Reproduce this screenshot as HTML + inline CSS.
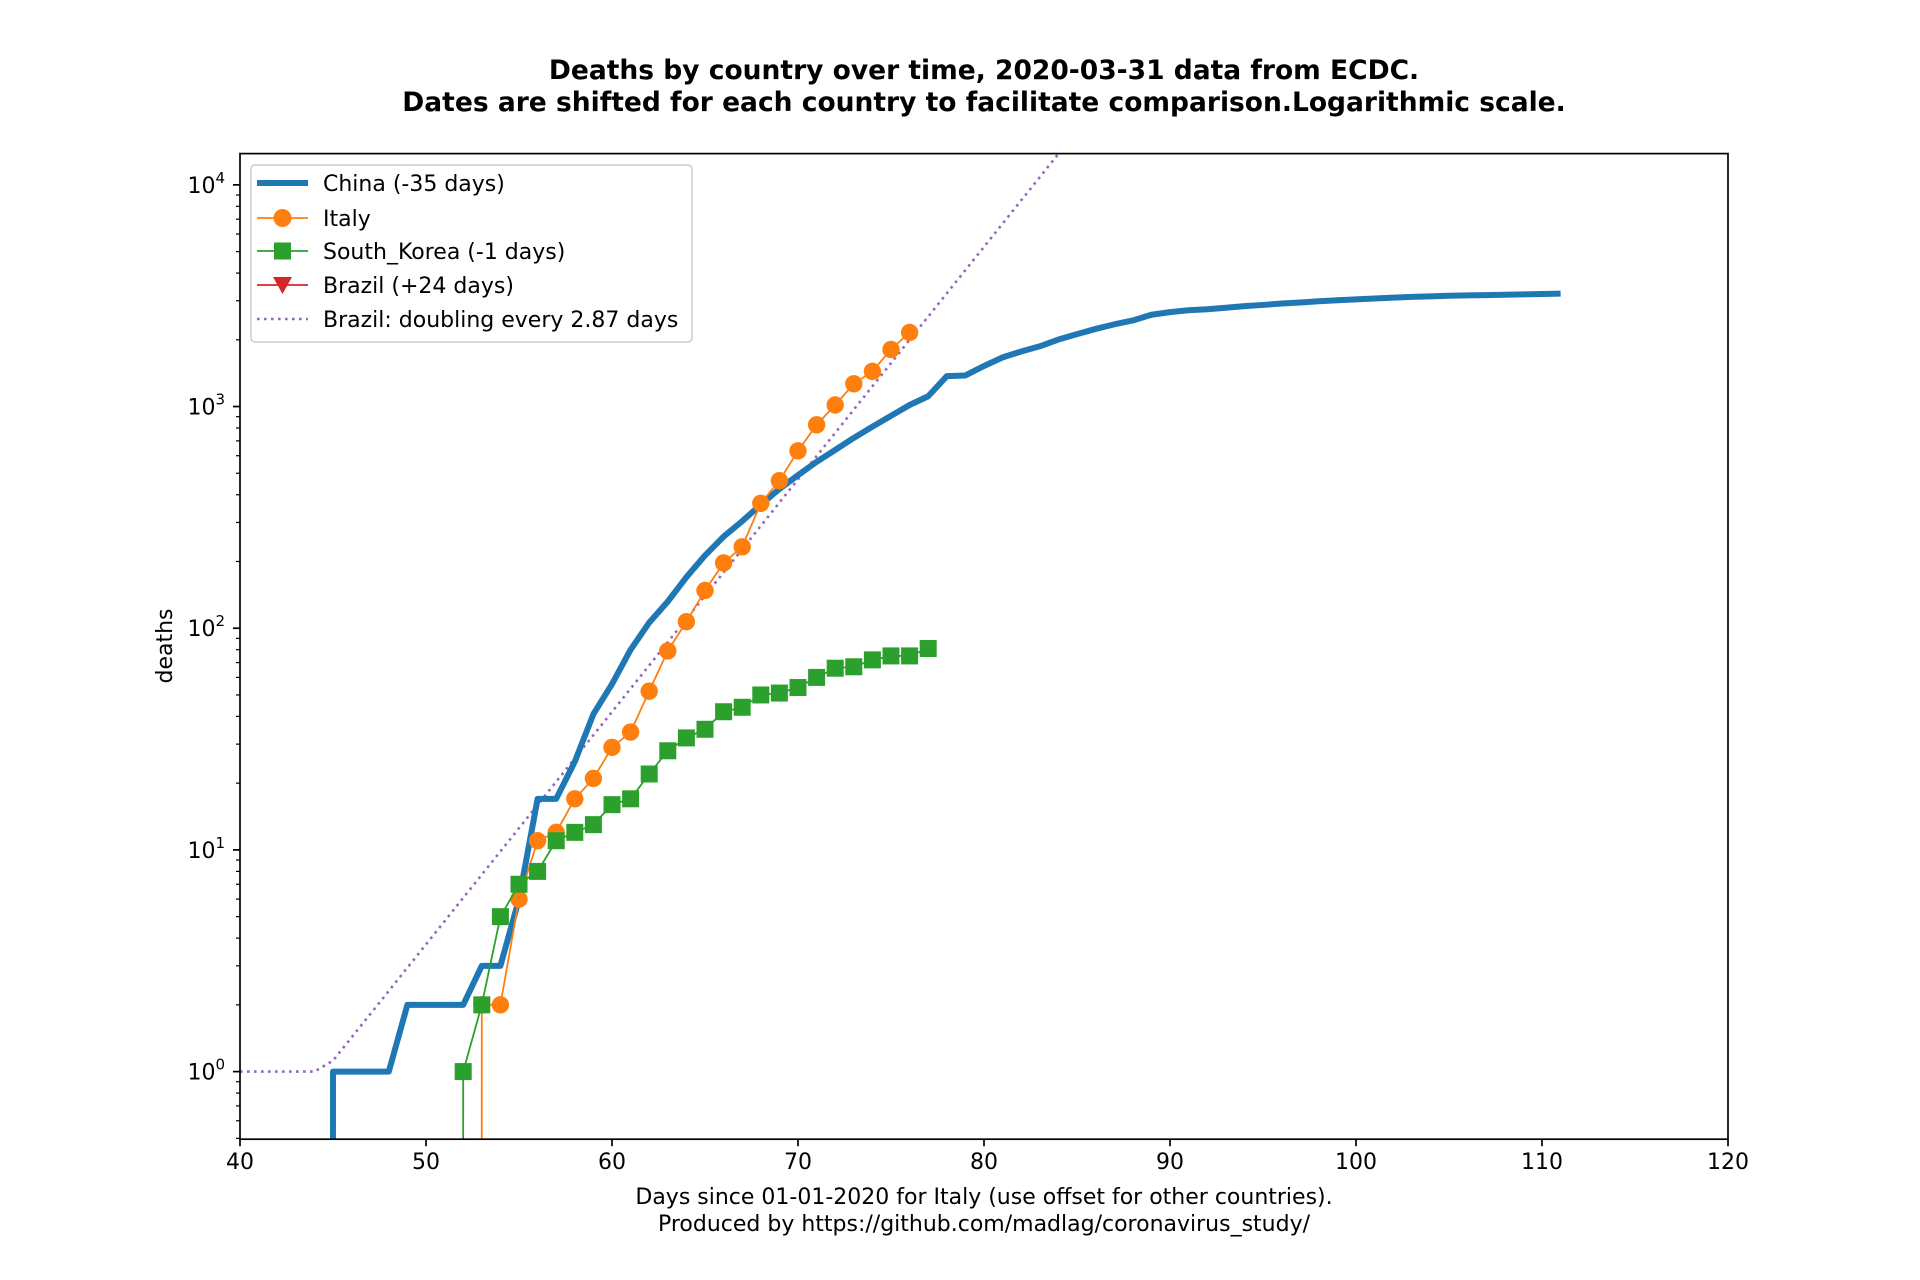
<!DOCTYPE html>
<html><head><meta charset="utf-8"><style>
html,body{margin:0;padding:0;background:#fff;width:1920px;height:1280px;overflow:hidden}
svg{display:block}
svg text{font-family:"DejaVu Sans","Liberation Sans",sans-serif;fill:#000}
</style></head><body>
<svg id="chart" width="1920" height="1280" viewBox="0 0 1920 1280" xmlns="http://www.w3.org/2000/svg">
<rect width="1920" height="1280" fill="#fff"/>
<defs><clipPath id="clip"><rect x="240" y="153.6" width="1488" height="985.6"/></clipPath></defs>
<text x="984" y="79" font-size="26.5" font-weight="bold" text-anchor="middle">Deaths by country over time, 2020-03-31 data from ECDC.</text>
<text x="984" y="111" font-size="26.5" font-weight="bold" text-anchor="middle">Dates are shifted for each country to facilitate comparison.Logarithmic scale.</text>
<g id="plot" clip-path="url(#clip)"></g>
<g id="axes"></g>
<rect x="240" y="153.6" width="1488" height="985.6" fill="none" stroke="#000" stroke-width="1.7"/>
<text x="984" y="1204" font-size="22" text-anchor="middle">Days since 01-01-2020 for Italy (use offset for other countries).</text>
<text x="984" y="1231" font-size="22" text-anchor="middle">Produced by https://github.com/madlag/coronavirus_study/</text>
<text x="172" y="646" font-size="22" text-anchor="middle" transform="rotate(-90 172 646)">deaths</text>
<g id="legend"></g>
</svg>
<script>
const chinaDays=[44,45,46,47,48,49,50,51,52,53,54,55,56,57,58,59,60,61,62,63,64,65,66,67,68,69,70,71,72,73,74,75,76,77,78,79,80,81,82,83,84,85,86,87,88,89,90,91,92,93,94,95,96,97,98,99,100,101,102,103,104,105,106,107,108,109,110,111];
const chinaDeaths=[0,1,1,1,1,2,2,2,2,3,3,6,17,17,25,41,56,80,106,132,170,213,259,304,361,425,490,563,637,722,811,908,1016,1113,1371,1381,1524,1666,1772,1870,2006,2121,2239,2348,2445,2595,2666,2718,2747,2791,2838,2873,2915,2946,2984,3015,3045,3073,3100,3123,3140,3162,3173,3180,3194,3204,3218,3231];
const italyDays=[52,53,54,55,56,57,58,59,60,61,62,63,64,65,66,67,68,69,70,71,72,73,74,75,76];
const italyDeaths=[0,2,2,6,11,12,17,21,29,34,52,79,107,148,197,233,366,463,631,827,1016,1266,1441,1809,2158];
const koreaDays=[51,52,53,54,55,56,57,58,59,60,61,62,63,64,65,66,67,68,69,70,71,72,73,74,75,76,77];
const koreaDeaths=[0,1,2,5,7,8,11,12,13,16,17,22,28,32,35,42,44,50,51,54,60,66,67,72,75,75,81];
const doublingDays=2.87;
const doublingStartDay=44.53;
const fitDays=[40,41,42,43,44,45,46,47,48,49,50,51,52,53,54,55,56,57,58,59,60,61,62,63,64,65,66,67,68,69,70,71,72,73,74,75,76,77,78,79,80,81,82,83,84,85,86];
const xTicks=[40,50,60,70,80,90,100,110,120];
const yTickExps=[0,1,2,3,4];

const NS="http://www.w3.org/2000/svg";
const X0=240,X1=1728,Y0=1139.2,Y1=153.6;
const xMin=40,xMax=120,lMin=-0.305,lMax=4.141;
const sx=d=>X0+(d-xMin)/(xMax-xMin)*(X1-X0);
const sy=v=>{const l=v>0?Math.log10(v):-300;return Y0-(l-lMin)/(lMax-lMin)*(Y0-Y1);};
function mk(tag,attrs,parent){const e=document.createElementNS(NS,tag);for(const k in attrs)e.setAttribute(k,attrs[k]);parent.appendChild(e);return e;}
const plot=document.getElementById('plot'),axes=document.getElementById('axes'),leg=document.getElementById('legend');

xTicks.forEach(t=>{
  const l=mk('line',{x1:sx(t),x2:sx(t),y1:Y0,y2:Y0+7,stroke:'#000','stroke-width':1.7},axes);
  
  
  const tx=mk('text',{x:sx(t),y:Y0+30,'font-size':22,'text-anchor':'middle'},axes);
  tx.textContent=t;
  
  
});
for(let e=-1;e<=4;e++){
  for(let m=1;m<10;m++){
    const v=m*Math.pow(10,e);const lv=Math.log10(v);
    if(lv<lMin||lv>lMax)continue;
    const y=sy(v);
    const major=m===1;
    const l=mk('line',{x1:X0,x2:X0-(major?7:4),y1:y,y2:y,stroke:'#000','stroke-width':major?1.7:1.2},axes);
    
    
  }
}
yTickExps.forEach(e=>{
  const y=sy(Math.pow(10,e));
  const t=mk('text',{x:225,y:y+8,'font-size':22,'text-anchor':'end'},axes);
  
  
  t.appendChild(document.createTextNode('10'));
  const s=mk('tspan',{'font-size':15,dy:-10},t);s.textContent=e;
});

function polyline(days,vals,color,width,extra){
  const pts=days.map((d,i)=>sx(d)+','+sy(vals[i])).join(' ');
  return mk('polyline',Object.assign({points:pts,fill:'none',stroke:color,'stroke-width':width,'stroke-linejoin':'round'},extra||{}),plot);
}
const fitVals=fitDays.map(d=>Math.max(1,Math.pow(2,(d-doublingStartDay)/doublingDays)));
const fit=polyline(fitDays,fitVals,'#9467bd',2.6,{'stroke-dasharray':'2.6,4.4'});


const ch=polyline(chinaDays,chinaDeaths,'#1f77b4',6);


const it=polyline(italyDays,italyDeaths,'#ff7f0e',1.8);


italyDays.forEach((d,i)=>{if(italyDeaths[i]<=0)return;
  const c=mk('circle',{cx:sx(d),cy:sy(italyDeaths[i]),r:8.7,fill:'#ff7f0e'},plot);
  
  
});
const kr=polyline(koreaDays,koreaDeaths,'#2ca02c',1.8);


koreaDays.forEach((d,i)=>{if(koreaDeaths[i]<=0)return;
  const r=mk('rect',{x:sx(d)-8.5,y:sy(koreaDeaths[i])-8.5,width:17,height:17,fill:'#2ca02c'},plot);
  
  
});

const box=mk('rect',{x:251,y:165,width:441,height:177,rx:4,fill:'#fff','fill-opacity':0.8,stroke:'#ccc','stroke-width':1.5},leg);


const entries=[['China (-35 days)','#1f77b4',6,'none',null],['Italy','#ff7f0e',1.8,'none','circle'],['South_Korea (-1 days)','#2ca02c',1.8,'none','square'],['Brazil (+24 days)','#d62728',1.8,'none','tri'],['Brazil: doubling every 2.87 days','#9467bd',2.6,'2.6,4.4',null]];
const ey=[183,218,251,285,319];
entries.forEach((en,i)=>{
  const y=ey[i];
  const g=mk('g',{},leg);
  
  
  mk('line',{x1:257,x2:308,y1:y,y2:y,stroke:en[1],'stroke-width':en[2],'stroke-dasharray':en[3]},g);
  if(en[4]==='circle')mk('circle',{cx:282.5,cy:y,r:9,fill:en[1]},g);
  if(en[4]==='square')mk('rect',{x:274,y:y-8.5,width:17,height:17,fill:en[1]},g);
  if(en[4]==='tri')mk('polygon',{points:'273,'+(y-8)+' 292,'+(y-8)+' 282.5,'+(y+9),fill:en[1]},g);
  const t=mk('text',{x:323,y:y+8,'font-size':22},g);t.textContent=en[0];
});
</script>
</body></html>
